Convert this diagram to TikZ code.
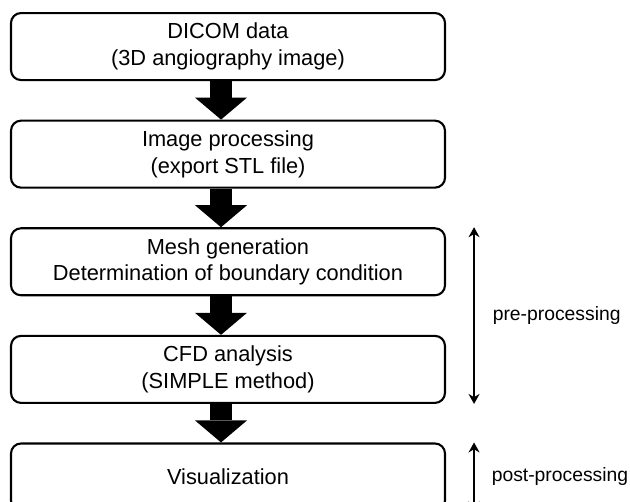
\documentclass[tikz,border=0pt]{standalone}
\usepackage{fontspec}
\setmainfont{Liberation Sans}
\usetikzlibrary{arrows.meta,positioning,calc}

\begin{document}
\begin{tikzpicture}[
    node distance=7.7mm,
    caja/.style={draw,line width=1.2pt,fill=white,rounded corners=2mm,minimum width=8.68cm,minimum height=1.34cm,align=center,font=\fontsize{12.4}{15.2}\selectfont},
    flecha/.style={line width=4.4mm,-{Triangle[width=10.4mm,length=4.4mm,line width=0pt]}},
    rango/.style={{Stealth[length=2mm,width=2.2mm]}-{Stealth[length=2mm,width=2.2mm]},line width=0.8pt},
    etiqueta/.style={anchor=west,inner sep=0pt,font=\fontsize{11}{13.5}\selectfont}]
    \useasboundingbox (0,0) rectangle (12.6,-10.04);
    \node[caja,anchor=north] (dicom) at (4.56,-0.24) {DICOM data\\(3D angiography image)};
    \node[caja,below=of dicom] (imagen) {Image processing\\(export STL file)};
    \node[caja,below=of imagen] (malla) {Mesh generation\\Determination of boundary condition};
    \node[caja,below=of malla] (cfd) {CFD analysis\\(SIMPLE method)};
    \node[caja,below=of cfd] (visual) {Visualization};
    \draw[flecha] ([xshift=-1.4mm]dicom.south) -- ([xshift=-1.4mm]imagen.north);
    \draw[flecha] ([xshift=-1.4mm]imagen.south) -- ([xshift=-1.4mm]malla.north);
    \draw[flecha] ([xshift=-1.4mm]malla.south) -- ([xshift=-1.4mm]cfd.north);
    \draw[flecha] ([xshift=-1.4mm]cfd.south) -- ([xshift=-1.4mm]visual.north);
    % pre / post ranges
    \draw[rango] ([xshift=5.6mm]malla.north east) -- ([xshift=5.6mm]cfd.south east)
      node[etiqueta,midway,xshift=3.6mm] {pre-processing};
    \draw[rango] ([xshift=5.6mm]visual.north east) -- ([xshift=5.6mm]visual.south east)
      node[etiqueta,midway,xshift=3.4mm] {post-processing};
\end{tikzpicture}
\end{document}
